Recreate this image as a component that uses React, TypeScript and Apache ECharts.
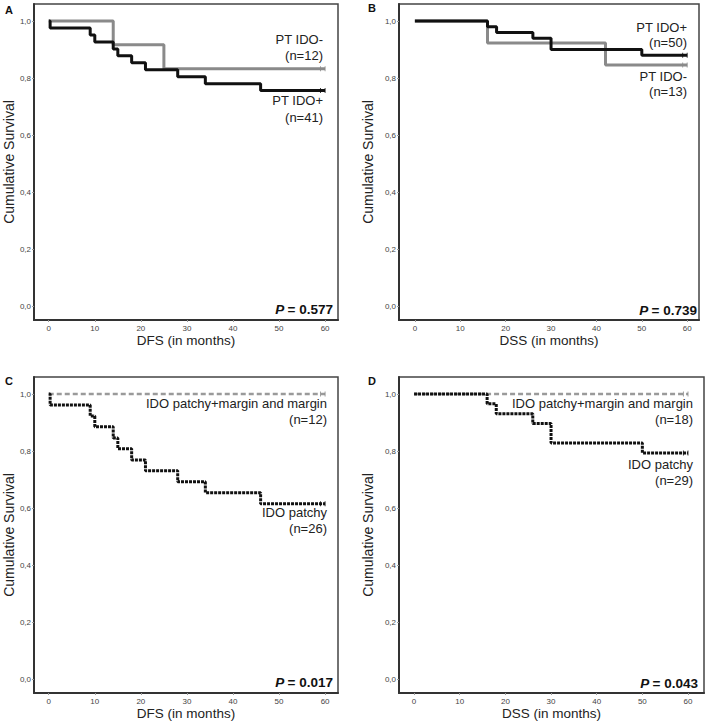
import React, { useEffect, useRef } from "react";
import * as echarts from "echarts";

// Panel A – DFS, PT IDO
const aNegT = [0, 14, 25, 60];
const aNegS = [1, 0.917, 0.833, 0.833];
const aPosT = [0, 0.3, 9, 10, 14, 15, 18, 21, 28, 34, 46, 60];
const aPosS = [1, 0.976, 0.951, 0.927, 0.902, 0.878, 0.854, 0.829, 0.805, 0.78, 0.756, 0.756];
// Panel B – DSS, PT IDO
const bPosT = [0, 16, 18, 26, 30, 50, 60];
const bPosS = [1, 0.98, 0.96, 0.94, 0.9, 0.88, 0.88];
const bNegT = [0, 16, 42, 60];
const bNegS = [1, 0.923, 0.846, 0.846];
// Panel C – DFS, IDO patchy
const cPatchyT = [0, 0.3, 9, 10, 14, 15, 18, 21, 28, 34, 46, 60];
const cPatchyS = [1, 0.962, 0.923, 0.885, 0.846, 0.808, 0.769, 0.731, 0.692, 0.654, 0.615, 0.615];
const cMarginT = [0, 60];
const cMarginS = [1, 1];
// Panel D – DSS, IDO patchy
const dPatchyT = [0, 16, 18, 26, 30, 50, 60];
const dPatchyS = [1, 0.966, 0.931, 0.897, 0.828, 0.793, 0.793];
const dMarginT = [0, 60];
const dMarginS = [1, 1];

// censored observations near the end of follow-up
const censorT = [59, 60];

const xTicks = [0, 10, 20, 30, 40, 50, 60];
const yTicks = [0, 0.2, 0.4, 0.6, 0.8, 1.0];

const pValues = ["0.577", "0.739", "0.017", "0.043"];
const xTitles = ["DFS (in months)", "DSS (in months)", "DFS (in months)", "DSS (in months)"];
const panelLetters = ["A", "B", "C", "D"];

const FONT = "'Liberation Sans', Arial, Helvetica, sans-serif";
const BLACK = "#111111";
const GRAY = "#8a8a8a";

const zip = (t: number[], s: number[]) => t.map((v, i) => [v, s[i]]);

export default function App() {
  const ref = useRef<HTMLDivElement>(null);
  useEffect(() => {
    document.body.style.margin = "0";
    if (!ref.current) return;
    const chart = echarts.init(ref.current, null, { renderer: "svg" });

    const grids = [
      { left: 34, top: 4, width: 304, height: 316 },
      { left: 399, top: 4, width: 300, height: 316 },
      { left: 34, top: 377, width: 304, height: 316 },
      { left: 399, top: 377, width: 305, height: 316 },
    ];
    const xRanges = [
      [-3.2, 62.8],
      [-3.5, 62.6],
      [-3.2, 62.8],
      [-3.3, 63.5],
    ];
    const yNameGaps = [17, 24, 17, 24];

    const xAxis = grids.map((_, i) => ({
      type: "value",
      gridIndex: i,
      min: xRanges[i][0],
      max: xRanges[i][1],
      name: xTitles[i],
      nameLocation: "middle",
      nameGap: 13,
      nameTextStyle: { fontFamily: FONT, fontSize: 13.5, color: "#222", verticalAlign: "top" },
      splitLine: { show: false },
      axisLine: { show: true, onZero: false, lineStyle: { color: "#333", width: 2 } },
      axisTick: { show: true, length: 2, customValues: xTicks, lineStyle: { color: "#999" } },
      axisLabel: {
        show: true,
        customValues: xTicks,
        margin: 4,
        fontSize: 8,
        fontFamily: FONT,
        color: "#444",
      },
    }));
    const yAxis = grids.map((_, i) => ({
      type: "value",
      gridIndex: i,
      min: -0.049,
      max: 1.06,
      name: "Cumulative Survival",
      nameLocation: "middle",
      nameGap: yNameGaps[i],
      nameTextStyle: { fontFamily: FONT, fontSize: 14, color: "#222" },
      splitLine: { show: false },
      axisLine: { show: true, onZero: false, lineStyle: { color: "#333", width: 2 } },
      axisTick: { show: true, length: 2, customValues: yTicks, lineStyle: { color: "#999" } },
      axisLabel: {
        show: true,
        customValues: yTicks,
        margin: 3,
        fontSize: 8,
        fontFamily: FONT,
        color: "#444",
        formatter: (v: number) => v.toFixed(1).replace(".", ","),
      },
    }));

    const stepLine = (idx: number, data: number[][], color: string, width: number, type: any, z = 2) => ({
      type: "line",
      xAxisIndex: idx,
      yAxisIndex: idx,
      data,
      step: "end",
      showSymbol: false,
      symbol: "none",
      z,
      lineStyle: { color, width, type },
    });
    const censor = (idx: number, s: number, color: string) => ({
      type: "scatter",
      xAxisIndex: idx,
      yAxisIndex: idx,
      data: censorT.map((t) => [t, s]),
      symbol: "rect",
      symbolSize: [1, 5],
      itemStyle: { color },
      z: 3,
    });

    const series: any[] = [
      stepLine(0, zip(aNegT, aNegS), GRAY, 3, "solid"),
      stepLine(0, zip(aPosT, aPosS), BLACK, 3, "solid", 3),
      censor(0, aNegS[aNegS.length - 1], GRAY),
      censor(0, aPosS[aPosS.length - 1], BLACK),
      stepLine(1, zip(bNegT, bNegS), GRAY, 3, "solid"),
      stepLine(1, zip(bPosT, bPosS), BLACK, 3, "solid", 3),
      censor(1, bNegS[bNegS.length - 1], GRAY),
      censor(1, bPosS[bPosS.length - 1], BLACK),
      stepLine(2, zip(cMarginT, cMarginS), "#9a9a9a", 2.5, [5, 3]),
      stepLine(2, zip(cPatchyT, cPatchyS), BLACK, 3, [3, 1], 3),
      censor(2, cMarginS[cMarginS.length - 1], GRAY),
      censor(2, cPatchyS[cPatchyS.length - 1], BLACK),
      stepLine(3, zip(dMarginT, dMarginS), "#9a9a9a", 2.5, [5, 3]),
      stepLine(3, zip(dPatchyT, dPatchyS), BLACK, 3, [3, 1], 3),
      censor(3, dMarginS[dMarginS.length - 1], GRAY),
      censor(3, dPatchyS[dPatchyS.length - 1], BLACK),
    ];

    const label = (right: number, y: number, text: string) => ({
      type: "text",
      x: right,
      y,
      style: {
        text,
        fontFamily: FONT,
        fontSize: 13,
        fill: "#222",
        align: "right",
        verticalAlign: "middle",
      },
    });

    const pTextPos = [
      [333, 309],
      [697, 310],
      [333, 682],
      [698, 683],
    ];
    const letterPos = [
      [5, 10],
      [368, 8],
      [5, 381],
      [368, 381],
    ];

    const graphic: any[] = [
      label(323, 39, "PT IDO-"),
      label(323, 55, "(n=12)"),
      label(323, 100, "PT IDO+"),
      label(323, 117, "(n=41)"),
      label(687, 27, "PT IDO+"),
      label(687, 42, "(n=50)"),
      label(687, 76, "PT IDO-"),
      label(687, 91, "(n=13)"),
      label(327, 403, "IDO patchy+margin and margin"),
      label(327, 419, "(n=12)"),
      label(327, 512, "IDO patchy"),
      label(327, 528, "(n=26)"),
      label(693, 403, "IDO patchy+margin and margin"),
      label(693, 419, "(n=18)"),
      label(693, 464, "IDO patchy"),
      label(693, 480, "(n=29)"),
      ...pValues.map((p, i) => ({
        type: "text",
        x: pTextPos[i][0],
        y: pTextPos[i][1],
        style: {
          text: `{i|P} {b|= ${p}}`,
          align: "right",
          verticalAlign: "middle",
          rich: {
            i: { fontFamily: FONT, fontSize: 13.5, fontWeight: "bold", fontStyle: "italic", fill: "#111" },
            b: { fontFamily: FONT, fontSize: 13.5, fontWeight: "bold", fill: "#111" },
          },
        },
      })),
      ...panelLetters.map((l, i) => ({
        type: "text",
        x: letterPos[i][0],
        y: letterPos[i][1],
        style: {
          text: l,
          fontFamily: FONT,
          fontSize: 11,
          fontWeight: "bold",
          fill: "#111",
          verticalAlign: "middle",
        },
      })),
    ];

    chart.setOption({
      animation: false,
      backgroundColor: "#ffffff",
      grid: grids.map((g) => ({ ...g, show: true, borderColor: "#444", borderWidth: 1.5, containLabel: false })),
      xAxis,
      yAxis,
      series,
      graphic,
    });
    return () => chart.dispose();
  }, []);
  return <div ref={ref} style={{ width: 708, height: 727 }} />;
}
